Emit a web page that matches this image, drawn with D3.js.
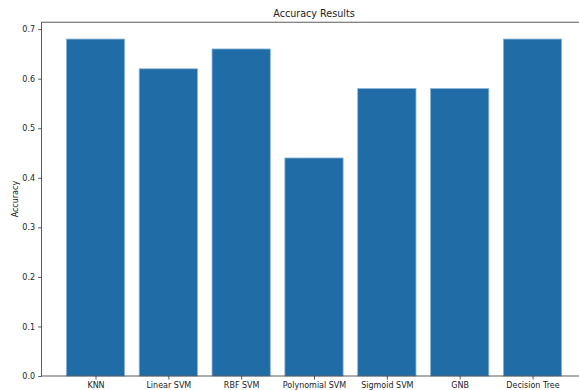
<!DOCTYPE html>
<html><head><meta charset="utf-8">
<script src="https://cdn.jsdelivr.net/npm/d3@7"></script>
<style>body{margin:0;background:#fff}svg{display:block}text{font-family:"DejaVu Sans",sans-serif;fill:#222}</style>
</head><body>
<svg id="c" width="579" height="390"></svg>
<script>
const categories = ["KNN","Linear SVM","RBF SVM","Polynomial SVM","Sigmoid SVM","GNB","Decision Tree"];
const accuracy = [0.68,0.62,0.66,0.44,0.58,0.58,0.68];
const yTicks = [0.0,0.1,0.2,0.3,0.4,0.5,0.6,0.7];
const title = "Accuracy Results";
const yLabel = "Accuracy";

const svg = d3.select("#c");
const L = 41.6, R = 586.4, T = 22.2, B = 376;
const x = d3.scaleLinear().domain([-0.74, categories.length - 1 + 0.74]).range([L, R]);
const yMax = d3.max(accuracy) * 1.05;
const y = d3.scaleLinear().domain([0, yMax]).range([B, T]);
const bw = 0.8;

svg.append("g").selectAll("rect").data(accuracy).join("rect")
  .attr("x", (d,i) => x(i - bw/2))
  .attr("width", (d,i) => x(i + bw/2) - x(i - bw/2))
  .attr("y", d => y(d))
  .attr("height", d => y(0) - y(d))
  .attr("fill", "#1f6ca7")
  .attr("stroke", "#8db5d8")
  .attr("stroke-width", 0.8);

const yAxis = d3.axisLeft(y).tickValues(yTicks).tickFormat(d3.format(".1f")).tickSize(3.5).tickPadding(3);
const gy = svg.append("g").attr("transform", `translate(${L},0)`).call(yAxis);
gy.select(".domain").remove();
gy.selectAll("text").style("font-size","8px").style("font-family","DejaVu Sans");
gy.selectAll("line").attr("stroke","#333").attr("stroke-width",0.8);

const xAxis = d3.axisBottom(x).tickValues(d3.range(categories.length)).tickFormat(i => categories[i]).tickSize(3.5).tickPadding(2.5);
const gx = svg.append("g").attr("transform", `translate(0,${B})`).call(xAxis);
gx.select(".domain").remove();
gx.selectAll("text").style("font-size","8px").style("font-family","DejaVu Sans");
gx.selectAll("line").attr("stroke","#333").attr("stroke-width",0.8);

// spines
svg.append("rect").attr("x", L).attr("y", T).attr("width", R - L).attr("height", B - T)
  .attr("fill","none").attr("stroke","#333").attr("stroke-width",0.8);

svg.append("text").attr("x", (L+R)/2).attr("y", T - 5).attr("text-anchor","middle")
  .style("font-size","9.6px").text(title);

svg.append("text").attr("transform", `translate(15.5,${(T+B)/2}) rotate(-90)`)
  .attr("text-anchor","middle").attr("dy","0.35em").style("font-size","8px").text(yLabel);
</script>
</body></html>
